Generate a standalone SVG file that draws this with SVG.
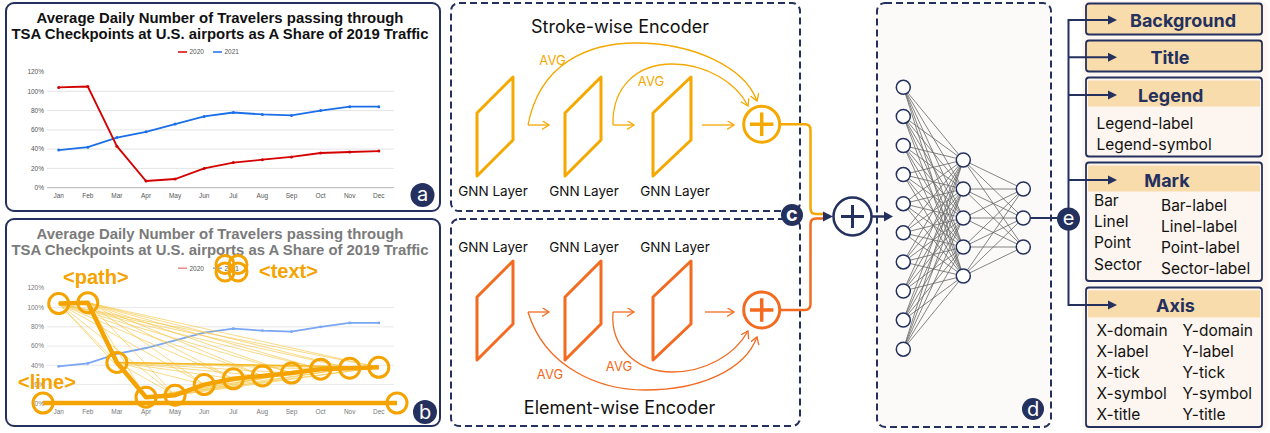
<svg xmlns="http://www.w3.org/2000/svg" width="1270" height="433" viewBox="0 0 1270 433">
<defs>
<style>
.panel{fill:#fff;stroke:#24305e;stroke-width:2}
.dash{stroke:#24305e;stroke-width:2;stroke-dasharray:7 4}
.ttl{font-family:"Liberation Sans",Arial,sans-serif;font-weight:700;font-size:14.9px;text-anchor:middle}
.tk{font-family:"Liberation Sans",Arial,sans-serif;font-size:6.5px;fill:#555}
.tkm{font-family:"Liberation Sans",Arial,sans-serif;font-size:6.5px;fill:#555;text-anchor:middle}
.grid{stroke:#ddd;stroke-width:0.8}
.badge{fill:#24305e}
.bt{font-family:Inter,"Liberation Sans",sans-serif;font-size:20px;fill:#fff;text-anchor:middle}
.gnn{font-family:Inter,"Liberation Sans",sans-serif;font-size:13.5px;fill:#111;text-anchor:middle}
.enc{font-family:Inter,"Liberation Sans",sans-serif;font-size:18px;fill:#111;text-anchor:middle}
.avg{font-family:Inter,"Liberation Sans",sans-serif;font-size:13px;text-anchor:middle}
.hd{font-family:Inter,"Liberation Sans",sans-serif;font-weight:700;font-size:18px;fill:#24305e;text-anchor:middle}
.it{font-family:Inter,"Liberation Sans",sans-serif;font-size:15.5px;fill:#111}
.tag{font-family:"Liberation Sans",Arial,sans-serif;font-weight:700;font-size:20px;fill:#f5a300}
.o1{stroke:#f5a800;fill:none}
.o2{stroke:#f26b21;fill:none}
.node{fill:#fff;stroke:#24305e;stroke-width:1.5}
.hdr{fill:#f9dcab}
.box{fill:#fdf5ef;stroke:#24305e;stroke-width:1.8}
.box.hb{fill:#f9dcab}
</style>
<marker id="ao" markerUnits="userSpaceOnUse" markerWidth="10" markerHeight="10" refX="7" refY="4.5" orient="auto"><path d="M0,0L7,4.5L0,9" fill="none" stroke="#f5a800" stroke-width="1.3"/></marker>
<marker id="ar" markerUnits="userSpaceOnUse" markerWidth="10" markerHeight="10" refX="7" refY="4.5" orient="auto"><path d="M0,0L7,4.5L0,9" fill="none" stroke="#f26b21" stroke-width="1.3"/></marker>
<g id="axes">
<path class="grid" d="M47,91.3H394M47,110.6H394M47,129.9H394M47,149.1H394M47,168.4H394"/>
<path d="M47,187.7H394" stroke="#aaa" stroke-width="0.9"/>
<text class="tk" text-anchor="end" x="44" y="74.3">120%</text>
<text class="tk" text-anchor="end" x="44" y="93.6">100%</text>
<text class="tk" text-anchor="end" x="44" y="112.9">80%</text>
<text class="tk" text-anchor="end" x="44" y="132.2">60%</text>
<text class="tk" text-anchor="end" x="44" y="151.4">40%</text>
<text class="tk" text-anchor="end" x="44" y="170.7">20%</text>
<text class="tk" text-anchor="end" x="44" y="190">0%</text>
<text class="tkm" x="58.7" y="197.5">Jan</text>
<text class="tkm" x="87.8" y="197.5">Feb</text>
<text class="tkm" x="116.9" y="197.5">Mar</text>
<text class="tkm" x="146" y="197.5">Apr</text>
<text class="tkm" x="175.1" y="197.5">May</text>
<text class="tkm" x="204.2" y="197.5">Jun</text>
<text class="tkm" x="233.3" y="197.5">Jul</text>
<text class="tkm" x="262.4" y="197.5">Aug</text>
<text class="tkm" x="291.5" y="197.5">Sep</text>
<text class="tkm" x="320.6" y="197.5">Oct</text>
<text class="tkm" x="349.7" y="197.5">Nov</text>
<text class="tkm" x="378.8" y="197.5">Dec</text>
</g>
</defs>

<!-- Panel a -->
<g id="panel-a">
<rect class="panel" x="6" y="3" width="434" height="208" rx="8"/>
<text class="ttl" x="220" y="23" fill="#111">Average Daily Number of Travelers passing through</text>
<text class="ttl" x="220" y="38.5" fill="#111">TSA Checkpoints at U.S. airports as A Share of 2019 Traffic</text>
<line x1="178" y1="52" x2="187" y2="52" stroke="#d00" stroke-width="1.5"/>
<text class="tk" x="189.5" y="54.3" font-size="7px">2020</text>
<line x1="213" y1="52" x2="222" y2="52" stroke="#1a6fe8" stroke-width="1.5"/>
<text class="tk" x="224.5" y="54.3" font-size="7px">2021</text>
<use href="#axes"/>
<polyline fill="none" stroke="#1a6fe8" stroke-width="1.8" points="58.7,150.1 87.8,147.2 116.9,137.6 146,131.8 175.1,124.1 204.2,116.4 233.3,112.5 262.4,114.4 291.5,115.4 320.6,110.6 349.7,106.7 378.8,106.7"/>
<polyline fill="none" stroke="#d40000" stroke-width="1.8" points="58.7,87.4 87.8,86.5 116.9,146.2 146,181 175.1,179 204.2,168.4 233.3,162.6 262.4,159.7 291.5,156.9 320.6,153 349.7,152 378.8,151.1"/>
<g fill="#1a6fe8"><circle cx="58.7" cy="150.1" r="1.5"/><circle cx="87.8" cy="147.2" r="1.5"/><circle cx="116.9" cy="137.6" r="1.5"/><circle cx="146" cy="131.8" r="1.5"/><circle cx="175.1" cy="124.1" r="1.5"/><circle cx="204.2" cy="116.4" r="1.5"/><circle cx="233.3" cy="112.5" r="1.5"/><circle cx="262.4" cy="114.4" r="1.5"/><circle cx="291.5" cy="115.4" r="1.5"/><circle cx="320.6" cy="110.6" r="1.5"/><circle cx="349.7" cy="106.7" r="1.5"/><circle cx="378.8" cy="106.7" r="1.5"/></g>
<g fill="#d40000"><circle cx="58.7" cy="87.4" r="1.5"/><circle cx="87.8" cy="86.5" r="1.5"/><circle cx="116.9" cy="146.2" r="1.5"/><circle cx="146" cy="181" r="1.5"/><circle cx="175.1" cy="179" r="1.5"/><circle cx="204.2" cy="168.4" r="1.5"/><circle cx="233.3" cy="162.6" r="1.5"/><circle cx="262.4" cy="159.7" r="1.5"/><circle cx="291.5" cy="156.9" r="1.5"/><circle cx="320.6" cy="153" r="1.5"/><circle cx="349.7" cy="152" r="1.5"/><circle cx="378.8" cy="151.1" r="1.5"/></g>
<circle class="badge" cx="422.5" cy="195" r="12"/>
<text class="bt" x="422.5" y="200.5">a</text>
</g>

<!-- Panel b -->
<g id="panel-b">
<rect class="panel" x="6" y="219" width="434" height="207" rx="8"/>
<text class="ttl" x="220" y="239" fill="#7a7a7a">Average Daily Number of Travelers passing through</text>
<text class="ttl" x="220" y="254.5" fill="#7a7a7a">TSA Checkpoints at U.S. airports as A Share of 2019 Traffic</text>
<line x1="178" y1="268.2" x2="187" y2="268.2" stroke="#ee8a8a" stroke-width="1.5"/>
<text class="tk" x="189.5" y="270.5" font-size="7px" fill="#999">2020</text>
<line x1="213" y1="268.2" x2="222" y2="268.2" stroke="#7aa6f2" stroke-width="1.5"/>
<text class="tk" x="224.5" y="270.5" font-size="7px" fill="#999">2021</text>
<use href="#axes" y="216.2" opacity="0.8"/>
<polyline fill="none" stroke="#7aa6f2" stroke-width="1.8" points="58.7,366.3 87.8,363.4 116.9,353.8 146,348 175.1,340.3 204.2,332.6 233.3,328.7 262.4,330.6 291.5,331.6 320.6,326.8 349.7,322.9 378.8,322.9"/>
<g fill="#7aa6f2"><circle cx="58.7" cy="366.3" r="1.4"/><circle cx="87.8" cy="363.4" r="1.4"/><circle cx="233.3" cy="328.7" r="1.4"/><circle cx="262.4" cy="330.6" r="1.4"/><circle cx="291.5" cy="331.6" r="1.4"/><circle cx="320.6" cy="326.8" r="1.4"/><circle cx="349.7" cy="322.9" r="1.4"/><circle cx="378.8" cy="322.9" r="1.4"/></g>
<polyline fill="none" stroke="#ee8a8a" stroke-width="1.8" points="58.7,303.6 87.8,302.7 116.9,362.4 146,397.2 175.1,395.2 204.2,384.6 233.3,378.8 262.4,375.9 291.5,373.1 320.6,369.2 349.7,368.2 378.8,367.3"/>
<path stroke="#f5c440" stroke-width="0.7" fill="none" opacity="0.9" d="M58.7,303.6L116.9,362.4M58.7,303.6L146,397.2M58.7,303.6L175.1,395.2M58.7,303.6L204.2,384.6M58.7,303.6L233.3,378.8M58.7,303.6L262.4,375.9M58.7,303.6L291.5,373.1M58.7,303.6L320.6,369.2M58.7,303.6L349.7,368.2M58.7,303.6L378.8,367.3M87.8,302.7L116.9,362.4M87.8,302.7L146,397.2M87.8,302.7L175.1,395.2M87.8,302.7L204.2,384.6M87.8,302.7L233.3,378.8M87.8,302.7L262.4,375.9M87.8,302.7L291.5,373.1M87.8,302.7L320.6,369.2M87.8,302.7L349.7,368.2M87.8,302.7L378.8,367.3M116.9,362.4L175.1,395.2M116.9,362.4L204.2,384.6M116.9,362.4L233.3,378.8M116.9,362.4L262.4,375.9M116.9,362.4L291.5,373.1M116.9,362.4L320.6,369.2M116.9,362.4L349.7,368.2M146,397.2L262.4,375.9M146,397.2L291.5,373.1M146,397.2L320.6,369.2M146,397.2L349.7,368.2M146,397.2L378.8,367.3M175.1,395.2L291.5,373.1M175.1,395.2L349.7,368.2M175.1,395.2L378.8,367.3"/>
<path stroke="#f5b820" stroke-width="1.4" fill="none" d="M116.9,362.4L378.8,367.3"/>
<polyline fill="none" stroke="#f5a300" stroke-width="4.5" stroke-linejoin="round" points="58.7,303.6 87.8,302.7 116.9,362.4 146,397.2 175.1,395.2 204.2,384.6 233.3,378.8 262.4,375.9 291.5,373.1 320.6,369.2 349.7,368.2 378.8,367.3"/>
<line x1="43" y1="403" x2="397" y2="403" stroke="#f5a300" stroke-width="4.5"/>
<g fill="none" stroke="#f5a300" stroke-width="3">
<circle cx="58.7" cy="303.6" r="10"/><circle cx="87.8" cy="302.7" r="10"/><circle cx="116.9" cy="362.4" r="10"/><circle cx="146" cy="397.2" r="10"/><circle cx="175.1" cy="395.2" r="10"/><circle cx="204.2" cy="384.6" r="10"/><circle cx="233.3" cy="378.8" r="10"/><circle cx="262.4" cy="375.9" r="10"/><circle cx="291.5" cy="373.1" r="10"/><circle cx="320.6" cy="369.2" r="10"/><circle cx="349.7" cy="368.2" r="10"/><circle cx="378.8" cy="367.3" r="10"/>
<circle cx="43" cy="403" r="10"/><circle cx="397" cy="403" r="10"/>
<circle cx="225" cy="264.5" r="9"/><circle cx="238" cy="264.5" r="9"/><circle cx="225" cy="272" r="9"/><circle cx="238" cy="272" r="9"/>
</g>
<text class="tag" x="63" y="284">&lt;path&gt;</text>
<text class="tag" x="259" y="277.5">&lt;text&gt;</text>
<text class="tag" x="18" y="389">&lt;line&gt;</text>
<circle class="badge" cx="425" cy="412" r="12"/>
<text class="bt" x="425" y="419">b</text>
</g>

<!-- Panel c: encoders -->
<g id="stroke-encoder">
<rect class="dash" fill="none" x="451" y="3" width="349" height="208" rx="8"/>
<text class="enc" x="620" y="33">Stroke-wise Encoder</text>
<g class="o1" stroke-width="3" stroke-linejoin="round">
<polygon points="477,113 513,77 513,140 477,176"/>
<polygon points="565,113 601,77 601,140 565,176"/>
<polygon points="653,113 691,77 691,140 653,176"/>
</g>
<text class="gnn" x="493" y="195.5">GNN Layer</text>
<text class="gnn" x="584" y="195.5">GNN Layer</text>
<text class="gnn" x="675" y="195.5">GNN Layer</text>
<g class="o1" stroke-width="1.3">
<path d="M528,125H549" marker-end="url(#ao)"/>
<path d="M613,125H634" marker-end="url(#ao)"/>
<path d="M702,125H734" marker-end="url(#ao)"/>
<path d="M528,125C540,62 590,43 636,43C695,43 745,68 757,101" marker-end="url(#ao)"/>
<path d="M613,125C612,86 638,64 672,64C708,64 737,84 748,106" marker-end="url(#ao)"/>
</g>
<text class="avg" fill="#f5a800" x="552.5" y="64.5">AVG</text>
<text class="avg" fill="#f5a800" x="651" y="85.5">AVG</text>
<circle cx="761.7" cy="124.3" r="18" fill="#fff" stroke="#f5a800" stroke-width="3"/>
<path d="M750,124.3H773.4M761.7,112.6V136" stroke="#f5a800" stroke-width="3.5"/>
</g>

<g id="element-encoder">
<rect class="dash" fill="none" x="451" y="219" width="349" height="207" rx="8"/>
<text class="enc" x="619.5" y="414">Element-wise Encoder</text>
<g class="o2" stroke-width="3" stroke-linejoin="round">
<polygon points="477,297 513,261 513,324 477,360"/>
<polygon points="565,297 601,261 601,324 565,360"/>
<polygon points="653,297 691,261 691,324 653,360"/>
</g>
<text class="gnn" x="493" y="251.5">GNN Layer</text>
<text class="gnn" x="584" y="251.5">GNN Layer</text>
<text class="gnn" x="675" y="251.5">GNN Layer</text>
<g class="o2" stroke-width="1.3">
<path d="M528,312H549" marker-end="url(#ar)"/>
<path d="M613,312H634" marker-end="url(#ar)"/>
<path d="M705,312H734" marker-end="url(#ar)"/>
<path d="M528,312C545,368 600,390 645,390C700,390 745,370 757,337" marker-end="url(#ar)"/>
<path d="M613,312C610,350 640,372 672,372C705,372 735,355 748,331" marker-end="url(#ar)"/>
</g>
<text class="avg" fill="#f26b21" x="550" y="379">AVG</text>
<text class="avg" fill="#f26b21" x="619" y="370.5">AVG</text>
<circle cx="761.7" cy="310" r="18" fill="#fff" stroke="#f26b21" stroke-width="3"/>
<path d="M750,310H773.4M761.7,298.3V321.7" stroke="#f26b21" stroke-width="3.5"/>
</g>

<g id="badge-c">
<circle class="badge" cx="792" cy="215" r="11"/>
<text class="bt" x="792" y="220.5" font-size="18px" font-weight="700">c</text>
</g>

<!-- Panel d: MLP -->
<g id="mlp">
<rect class="dash" fill="#fbfaf9" x="877" y="3" width="174" height="424" rx="8"/>
<path stroke="#666" stroke-width="0.8" fill="none" d="M903.3,87.3L963.3,160M903.3,87.3L963.3,189M903.3,87.3L963.3,218M903.3,87.3L963.3,247M903.3,87.3L963.3,276M903.3,116.4L963.3,160M903.3,116.4L963.3,189M903.3,116.4L963.3,218M903.3,116.4L963.3,247M903.3,116.4L963.3,276M903.3,145.5L963.3,160M903.3,145.5L963.3,189M903.3,145.5L963.3,218M903.3,145.5L963.3,247M903.3,145.5L963.3,276M903.3,174.6L963.3,160M903.3,174.6L963.3,189M903.3,174.6L963.3,218M903.3,174.6L963.3,247M903.3,174.6L963.3,276M903.3,203.7L963.3,160M903.3,203.7L963.3,189M903.3,203.7L963.3,218M903.3,203.7L963.3,247M903.3,203.7L963.3,276M903.3,232.8L963.3,160M903.3,232.8L963.3,189M903.3,232.8L963.3,218M903.3,232.8L963.3,247M903.3,232.8L963.3,276M903.3,261.9L963.3,160M903.3,261.9L963.3,189M903.3,261.9L963.3,218M903.3,261.9L963.3,247M903.3,261.9L963.3,276M903.3,291L963.3,160M903.3,291L963.3,189M903.3,291L963.3,218M903.3,291L963.3,247M903.3,291L963.3,276M903.3,320.1L963.3,160M903.3,320.1L963.3,189M903.3,320.1L963.3,218M903.3,320.1L963.3,247M903.3,320.1L963.3,276M903.3,349.2L963.3,160M903.3,349.2L963.3,189M903.3,349.2L963.3,218M903.3,349.2L963.3,247M903.3,349.2L963.3,276M963.3,160L1023.3,189M963.3,160L1023.3,218M963.3,160L1023.3,247M963.3,189L1023.3,189M963.3,189L1023.3,218M963.3,189L1023.3,247M963.3,218L1023.3,189M963.3,218L1023.3,218M963.3,218L1023.3,247M963.3,247L1023.3,189M963.3,247L1023.3,218M963.3,247L1023.3,247M963.3,276L1023.3,189M963.3,276L1023.3,218M963.3,276L1023.3,247"/>
<g class="node">
<circle cx="903.3" cy="87.3" r="7"/><circle cx="903.3" cy="116.4" r="7"/><circle cx="903.3" cy="145.5" r="7"/><circle cx="903.3" cy="174.6" r="7"/><circle cx="903.3" cy="203.7" r="7"/><circle cx="903.3" cy="232.8" r="7"/><circle cx="903.3" cy="261.9" r="7"/><circle cx="903.3" cy="291" r="7"/><circle cx="903.3" cy="320.1" r="7"/><circle cx="903.3" cy="349.2" r="7"/>
<circle cx="963.3" cy="160" r="7"/><circle cx="963.3" cy="189" r="7"/><circle cx="963.3" cy="218" r="7"/><circle cx="963.3" cy="247" r="7"/><circle cx="963.3" cy="276" r="7"/>
<circle cx="1023.3" cy="189" r="7"/><circle cx="1023.3" cy="218" r="7"/><circle cx="1023.3" cy="247" r="7"/>
</g>
<circle class="badge" cx="1033" cy="409" r="11"/>
<text class="bt" x="1033" y="415.5" font-size="18px">d</text>
</g>

<!-- Panel e: element types -->
<g id="types">
<rect x="1082" y="1" width="186" height="430" rx="6" fill="#fdf6f1"/>
<rect class="box hb" x="1086" y="3.5" width="176" height="31" rx="3"/>
<text class="hd" x="1183" y="26.5">Background</text>
<rect class="box hb" x="1086" y="40.5" width="176" height="31" rx="3"/>
<text class="hd" x="1170" y="64">Title</text>
<rect class="box" x="1086" y="77.5" width="176" height="79" rx="3"/>
<rect class="hdr" x="1088" y="80.5" width="172" height="26"/>
<text class="hd" x="1170.7" y="101.5">Legend</text>
<text class="it" x="1096.5" y="128.5">Legend-label</text>
<text class="it" x="1096.5" y="150">Legend-symbol</text>
<rect class="box" x="1086" y="162.5" width="176" height="118.5" rx="3"/>
<rect class="hdr" x="1088" y="165.5" width="172" height="26"/>
<text class="hd" x="1167" y="186.5">Mark</text>
<text class="it" x="1094" y="205.5">Bar</text>
<text class="it" x="1094" y="226.5">Linel</text>
<text class="it" x="1094" y="248">Point</text>
<text class="it" x="1094" y="269.5">Sector</text>
<text class="it" x="1161" y="210.5">Bar-label</text>
<text class="it" x="1161" y="232">Linel-label</text>
<text class="it" x="1161" y="253">Point-label</text>
<text class="it" x="1161" y="274">Sector-label</text>
<rect class="box" x="1086" y="287.5" width="176" height="139.5" rx="3"/>
<rect class="hdr" x="1088" y="290.5" width="172" height="27"/>
<text class="hd" x="1175.5" y="312">Axis</text>
<text class="it" x="1096.5" y="336">X-domain</text>
<text class="it" x="1096.5" y="357">X-label</text>
<text class="it" x="1096.5" y="378">X-tick</text>
<text class="it" x="1096.5" y="399">X-symbol</text>
<text class="it" x="1096.5" y="420">X-title</text>
<text class="it" x="1182.5" y="336">Y-domain</text>
<text class="it" x="1182.5" y="357">Y-label</text>
<text class="it" x="1182.5" y="378">Y-tick</text>
<text class="it" x="1182.5" y="399">Y-symbol</text>
<text class="it" x="1182.5" y="420">Y-title</text>
</g>

<!-- Connectors -->
<g id="connectors" fill="none">
<path d="M780.7,124.3H805Q810.5,124.3 810.5,130V208.5Q810.5,214 816,214H826" stroke="#f5a800" stroke-width="2.5"/>
<path d="M780.7,310H805Q810.5,310 810.5,304V224Q810.5,218.5 816,218.5H826" stroke="#f26b21" stroke-width="2.5"/>
<polygon points="823,211.5 833,216.5 823,221.5" fill="#24305e"/>
<circle cx="852.5" cy="216.5" r="19" fill="#fff" stroke="#24305e" stroke-width="2.5"/>
<path d="M841,216.5H864M852.5,205V228" stroke="#24305e" stroke-width="3"/>
<path d="M871.5,216.5H885" stroke="#24305e" stroke-width="2.5"/>
<polygon points="884,211.5 893,216.5 884,221.5" fill="#24305e"/>
<path d="M1030.3,218H1057" stroke="#24305e" stroke-width="2"/>
<path d="M1110,20H1068.5V305H1110M1068.5,57.3H1110M1068.5,95H1110M1068.5,180H1110" stroke="#24305e" stroke-width="2"/>
<g fill="#24305e">
<polygon points="1108,15.5 1117,20 1108,24.5"/>
<polygon points="1108,52.8 1117,57.3 1108,61.8"/>
<polygon points="1108,90.5 1117,95 1108,99.5"/>
<polygon points="1108,175.5 1117,180 1108,184.5"/>
<polygon points="1108,300.5 1117,305 1108,309.5"/>
</g>
<circle class="badge" cx="1068.5" cy="219" r="11.5"/>
<text class="bt" x="1068.5" y="225" font-size="19px">e</text>
</g>
</svg>
